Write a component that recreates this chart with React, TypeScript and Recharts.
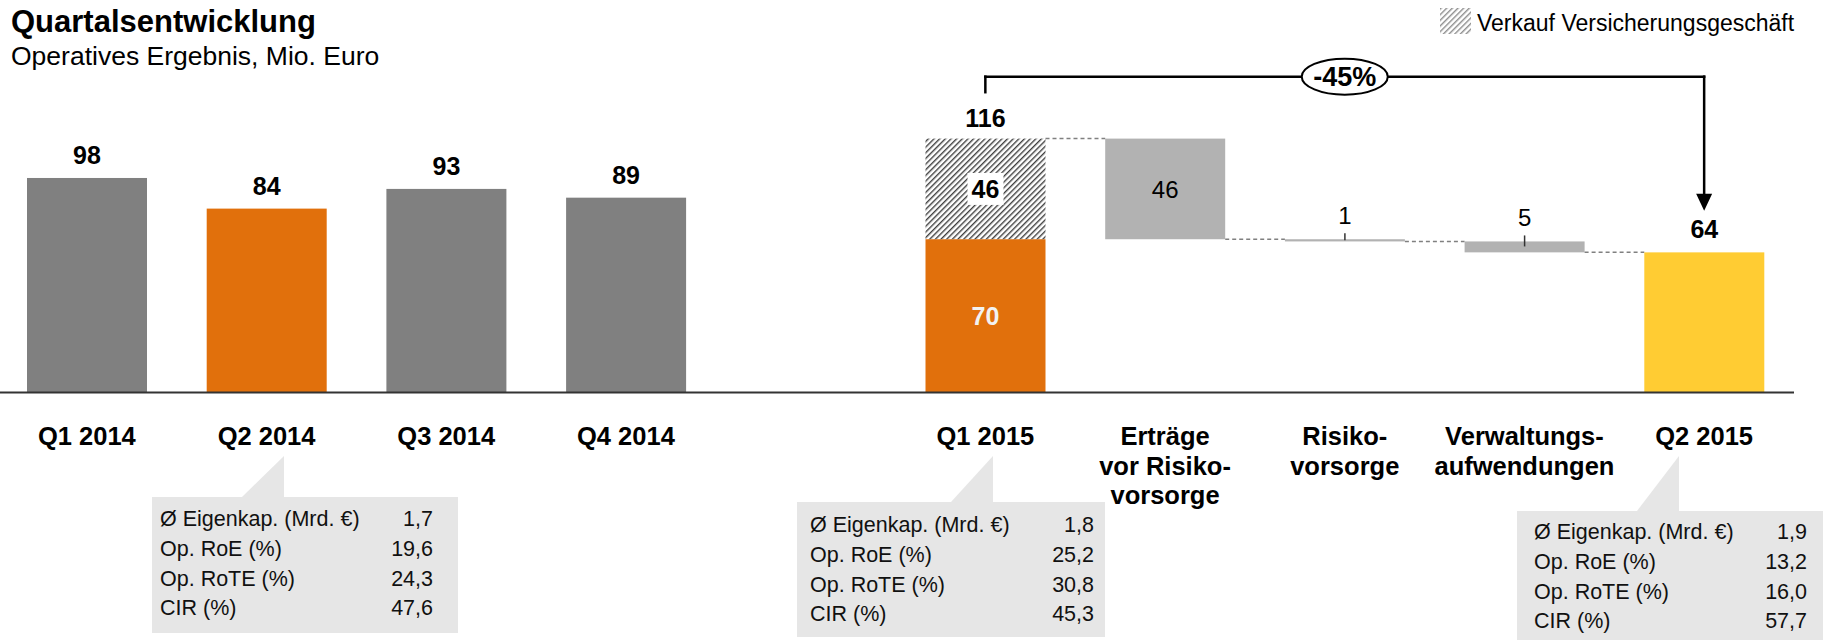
import React from 'react';
import { ComposedChart, Bar, XAxis, YAxis, ReferenceLine } from 'recharts';

// Operatives Ergebnis, Mio. Euro
const categories = ['Q1 2014', 'Q2 2014', 'Q3 2014', 'Q4 2014', 'gap', 'Q1 2015', 'Erträge', 'Risiko', 'Verwaltung', 'Q2 2015'];
const tickLines = [
  ['Q1 2014'], ['Q2 2014'], ['Q3 2014'], ['Q4 2014'], [],
  ['Q1 2015'], ['Erträge', 'vor Risiko-', 'vorsorge'], ['Risiko-', 'vorsorge'], ['Verwaltungs-', 'aufwendungen'], ['Q2 2015'],
];
const result2014 = [98, 84, 93, 89];
const q1Parts = [70, 46]; // operativ ohne / Verkauf Versicherungsgeschäft
const bridgeDeltas = [46, 1, 5];
const q2Result = 64;

const tableLabels = ['Ø Eigenkap. (Mrd. €)', 'Op. RoE (%)', 'Op. RoTE (%)', 'CIR (%)'];
const tableQ2_2014 = ['1,7', '19,6', '24,3', '47,6'];
const tableQ1_2015 = ['1,8', '25,2', '30,8', '45,3'];
const tableQ2_2015 = ['1,9', '13,2', '16,0', '57,7'];

const FONT = '"Liberation Sans", Arial, Helvetica, sans-serif';
const COLORS: Record<string, string> = {
  gray: '#808080',
  orange: '#E1700C',
  bridge: '#B2B2B2',
  yellow: '#FFCC33',
};

const CHART_W = 1829;
const PLOT_W = 1797;
const STEP = PLOT_W / categories.length;
const Y_MAX = 150;
const BRACKET_Y = 144.3;

// build rows
type Row = { key: string; base: number; value: number; sale: number; kind: string };
const rows: Row[] = [];
result2014.forEach((v, i) => rows.push({ key: categories[i], base: 0, value: v, sale: 0, kind: i === 1 ? 'orange' : 'gray' }));
rows.push({ key: categories[4], base: 0, value: 0, sale: 0, kind: 'none' });
rows.push({ key: categories[5], base: 0, value: q1Parts[0], sale: q1Parts[1], kind: 'orange' });
const q1Total = q1Parts[0] + q1Parts[1];
let level = q1Total;
bridgeDeltas.forEach((d, i) => {
  level -= d;
  rows.push({ key: categories[6 + i], base: level, value: d, sale: 0, kind: 'bridge' });
});
rows.push({ key: categories[9], base: 0, value: q2Result, sale: 0, kind: 'yellow' });

const changePct = Math.round(((q2Result - q1Total) / q1Total) * 100);

const tableLayout = [
  { values: tableQ2_2014, box: [152, 497, 306, 136], tri: '242,497 284,497 284,456', left: 160, right: 433, first: 526 },
  { values: tableQ1_2015, box: [797, 502, 308, 135], tri: '951,502 993,502 993,456', left: 810, right: 1094, first: 532 },
  { values: tableQ2_2015, box: [1517, 511, 306, 129], tri: '1637,511 1679,511 1679,456', left: 1534, right: 1807, first: 539 },
];
const ROW_H = 29.8;

function dashed(x1: number, x2: number, y: number) {
  return <line x1={x1} x2={x2} y1={y} y2={y} stroke="#808080" strokeWidth={1.5} strokeDasharray="4 3" />;
}

function ValueShape(p: any) {
  const { x, y, width, height, payload } = p;
  if (!payload || payload.value <= 0) return <g />;
  const top = Math.min(y, y + height);
  const h = Math.abs(height);
  const bottom = top + h;
  const cx = x + width / 2;
  const els: any[] = [<rect key="r" x={x} y={top} width={width} height={h} fill={COLORS[payload.kind]} />];
  if (payload.sale > 0) {
    els.push(
      <text key="t" x={cx} y={top + h / 2 + 9} textAnchor="middle" fontFamily={FONT} fontSize={25} fontWeight="bold" fill="#F2F2F2">
        {payload.value}
      </text>
    );
  } else if (payload.kind === 'bridge') {
    if (h > 40) {
      els.push(
        <text key="t" x={cx} y={top + h / 2 + 8.6} textAnchor="middle" fontFamily={FONT} fontSize={24} fill="#000">
          {payload.value}
        </text>
      );
    } else {
      els.push(<line key="k" x1={cx} x2={cx} y1={top - 6} y2={top + Math.min(h / 2, 5)} stroke="#333" strokeWidth={1.5} />);
      els.push(
        <text key="t" x={cx} y={top - 15} textAnchor="middle" fontFamily={FONT} fontSize={24} fill="#000">
          {payload.value}
        </text>
      );
    }
    els.push(<g key="c">{dashed(x + width, x + STEP, bottom)}</g>);
  } else {
    els.push(
      <text key="t" x={cx} y={top - 14} textAnchor="middle" fontFamily={FONT} fontSize={25} fontWeight="bold" fill="#000">
        {payload.value}
      </text>
    );
  }
  return <g>{els}</g>;
}

function SaleShape(p: any) {
  const { x, y, width, height, payload } = p;
  if (!payload || payload.sale <= 0) return <g />;
  const top = Math.min(y, y + height);
  const h = Math.abs(height);
  const cx = x + width / 2;
  const mid = top + h / 2;
  return (
    <g>
      <rect x={x} y={top} width={width} height={h} fill="url(#hatchBar)" />
      <rect x={cx - 18} y={mid - 16} width={36} height={32} fill="#fff" />
      <text x={cx} y={mid + 9} textAnchor="middle" fontFamily={FONT} fontSize={25} fontWeight="bold" fill="#000">
        {payload.sale}
      </text>
      <text x={cx} y={top - 12} textAnchor="middle" fontFamily={FONT} fontSize={25} fontWeight="bold" fill="#000">
        {payload.value + payload.sale}
      </text>
      {dashed(x + width, x + STEP, top)}
    </g>
  );
}

function CategoryTick(p: any) {
  const { x, y, payload } = p;
  const idx = categories.indexOf(payload.value);
  const lines = tickLines[idx] || [];
  return (
    <g>
      {lines.map((l, i) => (
        <text key={i} x={x} y={y + 52.6 + i * 29.5} textAnchor="middle" fontFamily={FONT} fontSize={25.5} fontWeight="bold" fill="#000">
          {l}
        </text>
      ))}
    </g>
  );
}

const BracketTop = (p: any) => {
  const { x1, x2, y1 } = p;
  const mx = (x1 + x2) / 2;
  return (
    <g>
      <line x1={x1} x2={x2} y1={y1} y2={y1} stroke="#000" strokeWidth={2.5} strokeLinecap="square" />
      <ellipse cx={mx} cy={y1} rx={43} ry={18} fill="#fff" stroke="#000" strokeWidth={2} />
      <text x={mx} y={y1 + 9.5} textAnchor="middle" fontFamily={FONT} fontSize={27} fontWeight="bold" fill="#000">
        {`${changePct}%`}
      </text>
    </g>
  );
};

const BracketLeg = (p: any) => (
  <line x1={p.x1} x2={p.x2} y1={p.y1} y2={p.y2} stroke="#000" strokeWidth={2.5} strokeLinecap="square" />
);

const BracketArrow = (p: any) => {
  const { x1, y1, y2 } = p;
  const tipY = Math.max(y1, y2);
  return (
    <g>
      <line x1={x1} x2={x1} y1={Math.min(y1, y2)} y2={tipY - 15} stroke="#000" strokeWidth={2.5} strokeLinecap="square" />
      <polygon points={`${x1 - 8},${tipY - 17} ${x1 + 8},${tipY - 17} ${x1},${tipY}`} fill="#000" />
    </g>
  );
};

function Overlay() {
  return (
    <svg width={1826} height={640} style={{ position: 'absolute', left: 0, top: 0 }}>
      <defs>
        <pattern id="hatchLegend" patternUnits="userSpaceOnUse" width={4} height={4} patternTransform="rotate(45)">
          <rect x={0} y={0} width={1.4} height={4} fill="#8C8C8C" />
        </pattern>
      </defs>
      <text x={11} y={32} fontFamily={FONT} fontSize={31} fontWeight="bold" fill="#000">Quartalsentwicklung</text>
      <text x={11} y={65} fontFamily={FONT} fontSize={26.5} fill="#000">Operatives Ergebnis, Mio. Euro</text>
      <rect x={1440} y={8} width={31} height={26} fill="url(#hatchLegend)" />
      <text x={1477} y={31} fontFamily={FONT} fontSize={23} fill="#000">Verkauf Versicherungsgeschäft</text>
      {tableLayout.map((t, ti) => (
        <g key={ti}>
          <polygon points={t.tri} fill="#E6E6E6" />
          <rect x={t.box[0]} y={t.box[1]} width={t.box[2]} height={t.box[3]} fill="#E6E6E6" />
          {tableLabels.map((lab, i) => (
            <g key={i}>
              <text x={t.left} y={t.first + i * ROW_H} fontFamily={FONT} fontSize={21.5} fill="#111">{lab}</text>
              <text x={t.right} y={t.first + i * ROW_H} textAnchor="end" fontFamily={FONT} fontSize={21.5} fill="#111">{t.values[i]}</text>
            </g>
          ))}
        </g>
      ))}
    </svg>
  );
}

export default function App() {
  return (
    <div style={{ position: 'absolute', left: 0, top: 0, width: 1826, height: 640, overflow: 'hidden', background: '#fff' }}>
      <Overlay />
      <div style={{ position: 'absolute', left: -3, top: 0 }}>
        <ComposedChart
          width={CHART_W}
          height={640}
          data={rows}
          barSize={120}
          margin={{ top: 64.2, right: CHART_W - PLOT_W, bottom: 187.6, left: 0 }}
        >
          <defs>
            <pattern id="hatchBar" patternUnits="userSpaceOnUse" width={4} height={4} patternTransform="rotate(45)">
              <rect x={0} y={0} width={1.4} height={4} fill="#404040" />
            </pattern>
          </defs>
          <XAxis
            dataKey="key"
            type="category"
            interval={0}
            height={60}
            tickSize={0}
            tickMargin={0}
            tickLine={false}
            axisLine={{ stroke: '#333', strokeWidth: 2 }}
            tick={<CategoryTick />}
          />
          <YAxis hide type="number" domain={[0, Y_MAX]} />
          <Bar dataKey="base" stackId="w" fill="transparent" isAnimationActive={false} />
          <Bar dataKey="value" stackId="w" shape={<ValueShape />} isAnimationActive={false} />
          <Bar dataKey="sale" stackId="w" shape={<SaleShape />} isAnimationActive={false} />
          <ReferenceLine
            segment={[{ x: categories[5], y: BRACKET_Y }, { x: categories[9], y: BRACKET_Y }]}
            shape={BracketTop}
          />
          <ReferenceLine
            segment={[{ x: categories[5], y: BRACKET_Y }, { x: categories[5], y: 137.2 }]}
            shape={BracketLeg}
          />
          <ReferenceLine
            segment={[{ x: categories[9], y: BRACKET_Y }, { x: categories[9], y: 83 }]}
            shape={BracketArrow}
          />
        </ComposedChart>
      </div>
    </div>
  );
}
